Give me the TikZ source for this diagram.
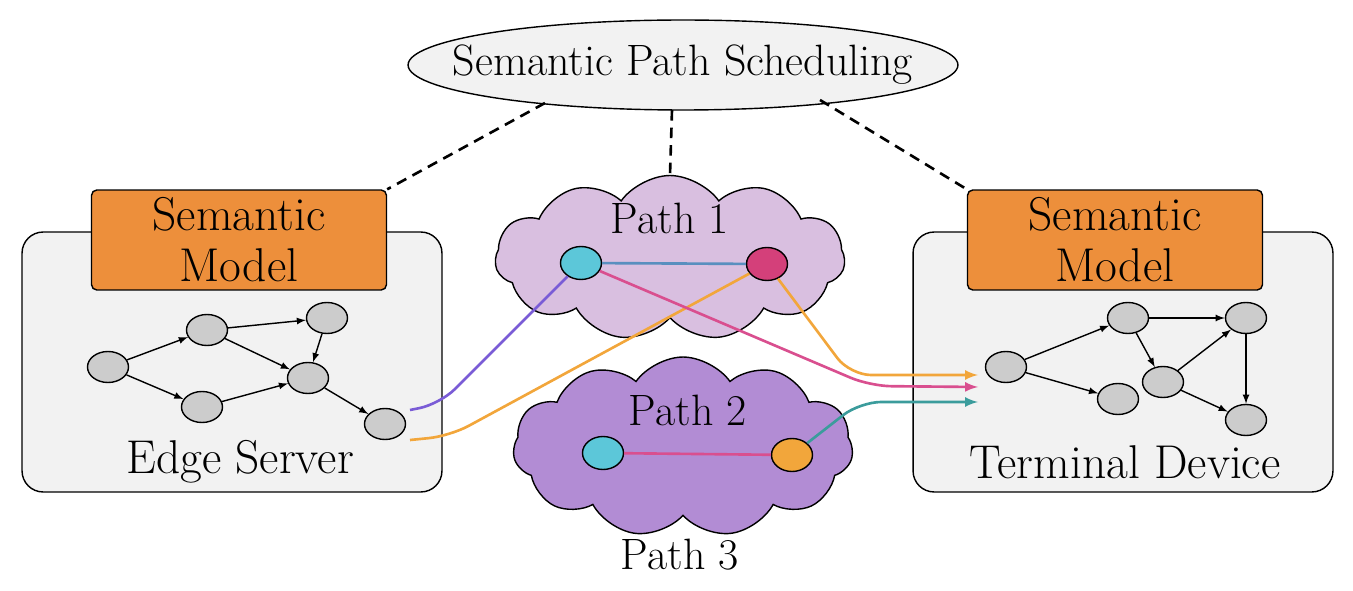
\documentclass[tikz,border=0pt]{standalone}
\usepackage{tikz}
\usetikzlibrary{shapes,shapes.symbols,arrows}
\definecolor{boxfill}{rgb}{0.95,0.95,0.95}
\definecolor{orng}{rgb}{0.93,0.56,0.23}
\definecolor{cloudA}{rgb}{0.85,0.75,0.88}
\definecolor{cloudB}{rgb}{0.70,0.55,0.83}
\definecolor{cyn}{rgb}{0.36,0.78,0.85}
\definecolor{crim}{rgb}{0.83,0.25,0.48}
\definecolor{lorng}{rgb}{0.95,0.65,0.23}
\definecolor{lpurp}{rgb}{0.48,0.36,0.84}
\definecolor{lpink}{rgb}{0.85,0.31,0.56}
\definecolor{lteal}{rgb}{0.23,0.61,0.61}
\definecolor{lblue}{rgb}{0.35,0.56,0.75}
\tikzstyle{gnode}=[draw,ellipse,thick,fill=gray!40,minimum width=0.82cm,minimum height=0.62cm,inner sep=0pt]
\tikzstyle{pnode}=[draw,ellipse,thick,minimum width=0.82cm,minimum height=0.66cm,inner sep=0pt]
\tikzstyle{gedge}=[draw,thick,-latex]
\tikzstyle{model}=[draw,thick,rounded corners=3pt,fill=orng,minimum width=5.9cm,minimum height=2cm,align=center,font=\fontsize{27}{29}\selectfont]
\tikzstyle{hostbox}=[draw,thick,rounded corners=12pt,fill=boxfill,minimum width=8.4cm,minimum height=5.2cm]
\tikzstyle{flow}=[line width=1.5pt,rounded corners=12pt]
\begin{document}
\begin{tikzpicture}[x=0.02cm,y=-0.02cm,font=\fontsize{25}{28}\selectfont]
\useasboundingbox (0,0) rectangle (1353,591);
% scheduler
\node[draw,thick,ellipse,fill=boxfill,minimum width=11cm,minimum height=1.8cm] (sched) at (683,65) {};
\node (schedlbl) at (sched) {Semantic Path Scheduling};
% hosts
\node[hostbox] (edge) at (232,362) {};
\node[hostbox] (term) at (1123,362) {};
\node[model] (modelL) at (239,240) {Semantic\\Model};
\node[model] (modelR) at (1115,240) {Semantic\\Model};
\node[font=\fontsize{27}{30}\selectfont] (edgelbl) at (240,462) {Edge Server};
\node[font=\fontsize{27}{30}\selectfont] (termlbl) at (1125,462) {Terminal Device};
% clouds
\node[cloud,draw,thick,fill=cloudA,cloud puffs=11,cloud puff arc=110,aspect=2.2,minimum width=7cm,minimum height=3.3cm] (pathA) at (670,258) {};
\node[cloud,draw,thick,fill=cloudB,cloud puffs=11,cloud puff arc=110,aspect=2,minimum width=6.8cm,minimum height=3.6cm] (pathB) at (683,447) {};
\node (lblA) at (670,218) {Path 1};
\node (lblB) at (688,410) {Path 2};
\node (lblC) at (680,555) {Path 3};
% dashed links
\coordinate (dA) at (545,103);
\coordinate (dB) at (672,110);
\coordinate (dC) at (820,100);
\draw[line width=1.5pt,dash pattern=on 6pt off 4pt] (dA) -- (modelL.north east);
\draw[line width=1.5pt,dash pattern=on 6pt off 4pt] (dB) -- (pathA.north);
\draw[line width=1.5pt,dash pattern=on 6pt off 4pt] (dC) -- (modelR.north west);
% left graph
\node[gnode] (l1) at (108,367) {};
\node[gnode] (l2) at (207,330) {};
\node[gnode] (l3) at (327,318) {};
\node[gnode] (l4) at (308,378) {};
\node[gnode] (l5) at (202,407) {};
\node[gnode] (l6) at (385,424) {};
\path[gedge] (l1) -- (l2);
\path[gedge] (l1) -- (l5);
\path[gedge] (l2) -- (l3);
\path[gedge] (l2) -- (l4);
\path[gedge] (l5) -- (l4);
\path[gedge] (l3) -- (l4);
\path[gedge] (l4) -- (l6);
% right graph
\node[gnode] (r1) at (1006,367) {};
\node[gnode] (r2) at (1128,318) {};
\node[gnode] (r3) at (1246,318) {};
\node[gnode] (r4) at (1163,382) {};
\node[gnode] (r5) at (1118,399) {};
\node[gnode] (r6) at (1246,420) {};
\path[gedge] (r1) -- (r2);
\path[gedge] (r1) -- (r5);
\path[gedge] (r2) -- (r3);
\path[gedge] (r2) -- (r4);
\path[gedge] (r4) -- (r3);
\path[gedge] (r3) -- (r6);
\path[gedge] (r4) -- (r6);
% path nodes
\node[pnode,fill=cyn] (a1) at (581,263) {};
\node[pnode,fill=crim] (a2) at (767,264) {};
\node[pnode,fill=cyn] (b1) at (603,453) {};
\node[pnode,fill=lorng] (b2) at (792,455) {};
\draw[line width=1.5pt,lblue] (a1) -- (a2);
\draw[line width=1.5pt,lpink] (b1) -- (b2);
% flows
\coordinate (outA) at (410,410);
\coordinate (outB) at (410,440);
\coordinate (inA) at (978,375);
\coordinate (inB) at (978,387);
\coordinate (inC) at (978,402);
\draw[flow,lpurp] (outA) -- (440,404) -- (a1);
\draw[flow,lorng] (outB) -- (450,436) -- (a2);
\draw[flow,lpink,-latex] (a1) -- (870,386) -- (inB);
\draw[flow,lorng,-latex] (a2) -- (850,375) -- (inA);
\draw[flow,lteal,-latex] (b2) -- (860,402) -- (inC);
\end{tikzpicture}
\end{document}
